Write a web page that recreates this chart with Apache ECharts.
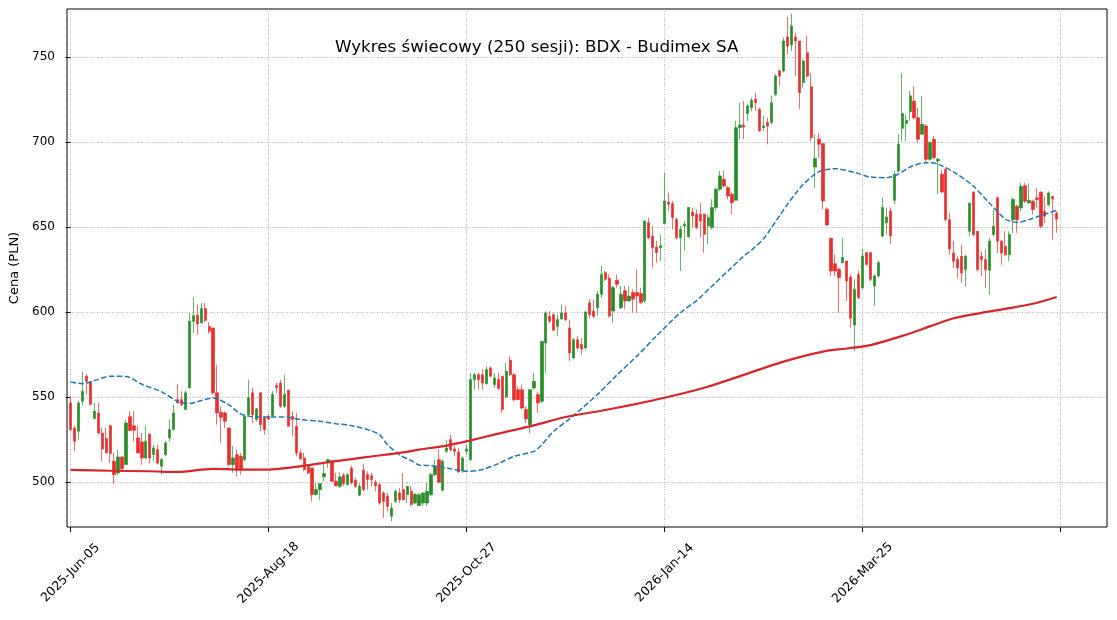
<!DOCTYPE html>
<html>
<head>
<meta charset="utf-8">
<script src="https://cdn.jsdelivr.net/npm/echarts@6/dist/echarts.min.js"></script>
<style>
html,body{margin:0;padding:0;background:#fff;}
#chart{width:1117px;height:620px;}
</style>
</head>
<body>
<div id="chart"></div>
<script>
// ---- data (session index 0..249) ----
const OPEN = [
546.5,531.8,529.8,547.5,562.2,558.6,537.3,540.6,528.8,525.5,
533.1,512.2,505.3,514.7,510.2,538.4,533.0,525.9,523.5,514.1,
528.2,516.1,519.0,509.2,516.1,525.9,530.8,548.4,548.4,542.6,
555.3,594.5,598.0,593.5,602.0,591.4,590.6,552.4,541.0,540.6,
531.8,510.2,516.0,515.1,513.1,539.6,552.4,536.7,552.4,537.6,
538.6,539.0,556.7,558.2,544.5,553.9,538.6,532.7,517.1,514.1,
509.2,508.2,492.6,495.5,503.0,511.2,512.2,500.4,497.4,504.0,
498.4,508.2,501.0,492.2,506.9,504.3,503.7,499.8,498.4,493.5,
491.6,479.8,488.6,493.5,495.5,492.6,494.5,487.6,486.1,487.6,
487.6,492.5,504.3,513.1,495.1,518.0,524.9,519.4,517.6,506.7,
518.0,513.1,560.2,563.1,563.1,557.8,567.1,557.3,560.2,562.2,
550.0,571.6,563.1,554.3,554.3,542.6,533.7,555.3,551.4,547.5,
581.8,597.4,598.4,591.6,595.9,599.4,590.6,572.9,583.7,580.8,
578.8,605.3,600.4,602.5,610.4,623.1,619.8,600.6,618.6,602.5,
612.4,606.5,611.4,611.4,610.8,606.5,652.5,644.7,638.2,637.8,
652.0,664.7,663.7,654.5,643.7,650.6,644.3,658.8,657.5,657.5,
657.5,650.6,649.6,661.4,672.2,678.0,673.1,669.2,665.7,708.4,
710.0,716.7,720.2,725.1,719.2,708.4,711.4,711.4,728.0,741.8,
741.8,761.8,757.1,761.8,759.4,734.9,752.5,732.5,685.3,701.6,
699.0,660.4,643.3,628.4,625.1,629.0,630.0,620.6,592.3,622.1,
614.3,634.9,634.9,615.3,621.2,644.7,652.5,659.4,665.7,682.9,
708.0,710.8,717.8,724.1,714.3,704.5,709.4,689.8,701.6,688.8,
681.0,683.8,654.3,634.7,630.8,632.7,624.9,647.4,670.4,647.4,
632.7,630.8,624.5,645.5,667.1,641.6,638.6,633.7,654.3,662.2,
661.2,674.3,664.1,665.1,667.1,670.4,659.2,663.1,668.0,658.2
];
const CLOSE = [
530.8,523.9,546.5,553.3,559.2,545.5,541.6,528.8,519.4,517.1,
516.7,504.3,514.7,507.7,534.7,530.2,530.4,517.1,514.1,523.9,
514.1,520.0,511.2,513.2,523.0,530.8,540.6,546.5,545.5,552.4,
594.5,597.8,592.9,602.0,594.9,588.6,552.4,540.6,538.0,535.7,
510.2,514.1,507.0,507.3,538.6,549.4,539.6,543.0,533.7,530.8,
537.1,551.4,555.5,544.5,551.4,532.7,536.7,517.1,513.5,507.3,
505.3,492.6,495.5,499.0,504.9,513.1,500.4,497.8,502.9,499.0,
504.3,499.4,497.4,497.4,495.5,501.4,501.4,497.8,487.6,488.6,
485.7,484.7,494.5,489.6,489.6,497.4,486.7,492.6,492.5,493.5,
494.5,504.3,509.2,499.8,512.2,520.0,519.0,518.0,505.9,514.1,
519.4,560.2,563.1,560.2,558.2,566.1,562.2,561.2,554.9,542.6,
565.1,563.1,548.4,548.4,543.5,537.1,554.3,559.2,546.5,582.7,
599.4,594.5,589.2,595.5,599.4,595.5,575.9,583.7,578.8,578.2,
600.0,598.4,597.4,610.4,622.1,619.2,597.6,614.3,616.3,610.4,
606.5,609.4,607.5,609.4,605.5,653.5,643.7,637.8,634.9,639.0,
665.3,663.3,655.5,643.7,648.6,651.6,661.4,656.5,649.6,653.5,
645.7,655.5,661.4,672.2,680.0,674.1,668.2,664.3,708.4,710.0,
708.8,721.2,724.5,723.1,706.5,709.4,709.4,723.1,738.8,738.8,
759.4,756.5,768.2,759.4,729.0,747.6,738.8,702.5,690.2,698.6,
665.3,651.2,624.1,624.1,620.2,632.0,618.2,596.3,613.3,608.4,
632.9,628.0,619.2,621.2,629.0,661.4,655.9,644.7,681.0,698.6,
716.7,712.8,727.1,714.3,701.6,710.4,689.8,699.6,690.8,689.8,
670.5,654.4,637.0,629.8,625.9,622.9,632.7,664.1,645.5,624.9,
630.8,624.9,641.6,650.4,641.6,634.7,633.7,645.5,666.1,654.3,
673.9,665.1,665.7,660.2,666.1,650.4,656.3,670.0,666.5,654.7
];
const LOW = [
529.8,518.1,524.9,545.0,551.4,545.1,536.7,527.8,512.2,517.0,
511.2,499.0,503.9,506.3,510.2,529.8,523.9,517.1,510.2,513.2,
510.8,512.2,510.2,504.3,515.1,523.9,530.4,546.1,544.5,542.6,
555.3,587.7,586.7,593.5,594.1,587.1,551.4,533.7,523.0,531.8,
509.2,505.3,503.3,504.3,512.2,538.6,534.7,535.7,529.8,527.8,
536.3,538.6,552.4,543.5,543.5,532.7,526.9,515.1,513.1,506.3,
504.3,488.6,492.0,489.6,500.4,508.2,500.4,497.4,496.5,497.8,
497.8,498.4,496.5,491.6,494.5,495.5,497.4,494.5,486.6,478.8,
482.7,476.9,487.6,487.6,489.2,487.6,485.7,486.7,485.7,485.7,
485.7,491.6,503.3,499.8,494.5,517.0,518.0,515.1,505.3,505.3,
516.1,512.2,554.3,554.3,554.3,557.3,561.8,555.3,554.3,540.6,
549.4,562.2,547.5,548.4,542.6,534.7,528.8,554.3,540.6,546.5,
564.1,593.5,588.6,585.7,595.5,594.5,571.0,572.9,577.8,574.9,
577.8,596.5,596.5,597.6,608.4,618.2,596.7,593.7,614.3,601.6,
601.6,606.1,599.6,599.6,604.5,605.5,642.7,626.1,629.0,630.0,
651.6,659.4,648.6,642.7,624.1,635.9,643.7,649.6,648.6,643.7,
634.9,639.8,648.6,659.4,671.2,673.1,666.3,657.5,665.7,701.6,
701.6,712.4,718.2,718.2,706.1,706.5,698.6,710.4,727.1,732.9,
740.8,751.6,753.5,738.8,719.2,732.0,737.8,700.6,673.1,690.8,
660.4,650.6,621.2,621.2,599.6,629.0,606.5,590.8,577.0,607.5,
613.3,627.1,618.2,603.5,620.2,643.7,645.7,639.8,663.3,682.0,
700.6,700.6,712.4,713.3,699.6,704.5,687.8,688.8,689.8,669.2,
670.0,653.3,633.7,625.9,620.0,617.1,615.1,644.5,644.5,623.9,
620.9,614.1,610.2,644.5,634.7,627.8,632.7,629.8,646.5,646.5,
659.2,664.1,664.1,657.3,661.2,649.4,652.4,662.2,642.5,646.5
];
const HIGH = [
550.4,533.0,547.5,564.7,563.5,559.2,546.5,546.5,531.8,531.8,
533.7,517.1,519.0,515.1,536.7,541.6,541.6,532.8,528.8,532.8,
528.2,522.0,522.0,514.1,523.9,536.7,545.5,557.6,553.3,553.7,
599.4,608.6,604.3,605.3,605.3,594.1,590.6,569.0,544.5,541.6,
531.8,521.0,519.0,517.1,539.6,560.2,555.3,543.5,552.7,538.6,
539.6,553.3,558.2,560.2,563.1,554.3,541.6,540.6,519.0,517.1,
510.2,508.2,499.4,499.4,511.2,513.5,513.1,505.3,505.7,505.3,
505.3,509.6,502.4,499.4,510.8,506.3,505.3,501.4,499.4,494.5,
493.5,487.6,495.5,496.5,505.3,497.8,497.4,493.5,493.5,493.9,
499.4,505.3,513.1,519.0,513.1,524.9,527.8,521.0,520.0,515.1,
522.0,564.1,564.1,564.1,566.1,568.0,568.0,564.1,564.1,562.2,
570.0,573.9,564.1,556.3,557.3,544.5,554.3,564.1,553.3,582.7,
600.4,600.4,599.4,598.4,604.3,603.3,595.5,584.7,585.7,584.7,
600.4,607.6,607.3,612.4,627.1,624.1,622.1,615.3,622.1,615.3,
615.3,615.3,613.3,625.1,614.3,653.9,655.5,650.6,641.8,645.7,
681.9,670.2,665.3,655.5,650.6,653.5,661.8,661.4,660.4,664.3,
657.8,657.5,666.3,673.1,683.0,683.0,674.1,670.2,712.4,723.1,
724.1,722.2,726.1,729.0,720.2,715.3,714.3,727.1,739.8,742.7,
761.4,773.5,775.5,764.3,759.4,748.6,762.4,740.8,704.5,705.5,
699.0,661.4,643.7,633.9,626.1,643.7,630.0,622.1,619.2,624.1,
636.9,634.9,634.9,622.1,630.0,667.3,661.4,661.4,682.9,704.5,
740.8,716.3,730.0,732.9,720.2,727.1,710.4,700.6,703.5,690.8,
683.7,684.7,658.2,641.6,632.7,639.6,633.7,664.1,671.0,647.4,
635.7,636.7,643.5,660.2,668.0,642.5,647.4,647.4,667.1,663.1,
675.9,675.9,675.5,666.1,672.9,671.0,668.0,671.0,668.0,659.2
];
// moving averages: [session index, value]
const MA_DASHED = [
[0,558.8],[3,557.8],[6,559.6],[10,562.2],[14,562.0],[18,557.5],[23,553.0],[27,547.5],[30,546.1],
[33,547.9],[36,549.4],[40,545.3],[43,540.0],[47,538.2],[50,538.2],[54,538.2],[58,536.7],[63,535.7],
[67,534.3],[71,533.1],[75,530.8],[78,527.8],[80,522.0],[83,516.0],[86,512.5],[88,510.0],[91,509.6],
[95,508.2],[100,506.3],[104,507.3],[108,510.8],[112,515.1],[117,518.0],[119,522.0],[122,529.8],
[126,537.1],[129,543.1],[133,551.4],[138,563.0],[143,574.0],[148,586.0],[154,599.6],[158,606.5],
[162,615.3],[166,624.1],[170,632.9],[172,636.5],[175,643.0],[177,649.6],[179,656.5],[181,663.3],
[183,669.5],[185,675.1],[189,682.5],[193,684.3],[198,682.0],[202,679.4],[206,679.0],[209,681.0],
[212,685.3],[216,687.8],[219,687.0],[224,680.8],[228,673.9],[232,664.1],[236,654.7],[239,652.7],
[242,654.3],[245,656.7],[249,659.8]
];
const MA_SOLID = [
[0,507.1],[10,506.6],[20,506.3],[27,505.9],[36,507.7],[43,507.3],[50,507.3],[58,509.2],[67,512.2],
[75,514.7],[84,517.4],[88,519.0],[95,521.4],[100,523.9],[108,528.4],[117,533.3],[125,538.2],
[134,541.9],[142,545.5],[150,549.5],[160,555.4],[170,563.0],[180,570.8],[190,576.7],[196,578.5],
[202,580.5],[210,585.9],[217,591.5],[223,596.3],[230,599.5],[236,601.8],[243,604.8],[249,608.8]
];
const X_TICKS = [0, 50, 100, 150, 200, 250];
const X_LABEL_TICKS = [0, 50, 100, 150, 200];
const X_LABELS = ['2025-Jun-05', '2025-Aug-18', '2025-Oct-27', '2026-Jan-14', '2026-Mar-25'];
const Y_TICKS = [500, 550, 600, 650, 700, 750];
const TITLE = 'Wykres świecowy (250 sesji): BDX - Budimex SA';

const candles = OPEN.map((o, i) => [i, o, CLOSE[i], LOW[i], HIGH[i]]);

const FONT = 'DejaVu Sans';
const GRID_STYLE = {color: '#a8a8a8', type: [1, 1.5], width: 0.8};
const chart = echarts.init(document.getElementById('chart'), null, {renderer: 'canvas'});
chart.setOption({
  animation: false,
  backgroundColor: '#ffffff',
  title: {
    text: TITLE, left: 335, top: 39, padding: 0,
    textStyle: {fontFamily: FONT, fontSize: 16.7, fontWeight: 'normal', color: '#000'}
  },
  grid: {left: 67, right: 10, top: 9, bottom: 93, show: true, borderColor: '#000', borderWidth: 1, backgroundColor: 'transparent'},
  xAxis: {
    type: 'value', min: -0.9, max: 261.7,
    axisLine: {show: false},
    axisTick: {show: true, customValues: X_TICKS, length: 5, lineStyle: {color: '#000', width: 1}},
    axisLabel: {
      customValues: X_LABEL_TICKS, rotate: 45, align: 'center', verticalAlign: 'middle', margin: 46,
      fontFamily: FONT, fontSize: 12.5, color: '#000',
      formatter: v => X_LABELS[X_LABEL_TICKS.indexOf(Math.round(v))] || ''
    },
    splitLine: {show: true, lineStyle: GRID_STYLE}
  },
  yAxis: {
    type: 'value', min: 473.5, max: 778.2, scale: true,
    name: 'Cena (PLN)', nameLocation: 'middle', nameGap: 45,
    nameTextStyle: {fontFamily: FONT, fontSize: 13, color: '#000'},
    axisLine: {show: false},
    axisTick: {show: true, customValues: Y_TICKS, length: 5, lineStyle: {color: '#000', width: 1}},
    axisLabel: {customValues: Y_TICKS, margin: 12, fontFamily: FONT, fontSize: 12, color: '#000'},
    splitLine: {show: true, lineStyle: GRID_STYLE}
  },
  series: [
    {
      type: 'candlestick', data: candles, barWidth: 2.8,
      itemStyle: {color: '#2a8f2a', color0: '#e8302f', borderColor: '#2a8f2a', borderColor0: '#e8302f', borderWidth: 0.7}
    },
    {
      type: 'line', data: MA_DASHED, smooth: 0.3, showSymbol: false, z: 3,
      lineStyle: {color: '#1f77b4', width: 1.5, type: [5.5, 2.4]}
    },
    {
      type: 'line', data: MA_SOLID, smooth: 0.3, showSymbol: false, z: 3,
      lineStyle: {color: '#d62728', width: 2.2}
    }
  ]
});
</script>
</body>
</html>
